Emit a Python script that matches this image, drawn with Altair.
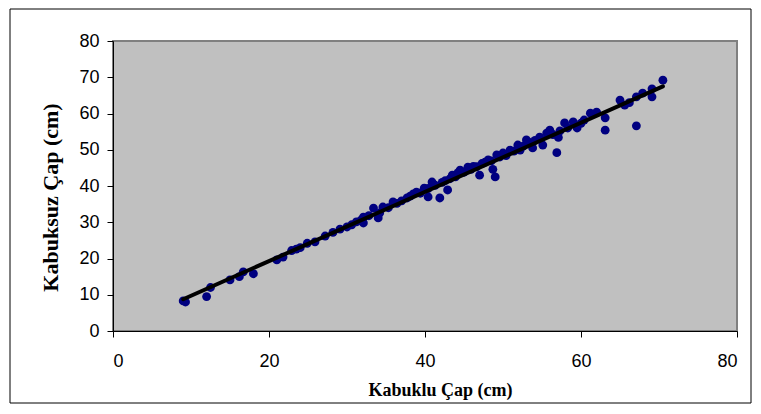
import altair as alt
import pandas as pd

# Kabuklu (with bark) diameter, cm
kabuklu = [9.0, 9.3, 12.0, 12.5, 15.0, 16.2, 16.7, 18.0,
           21.0, 21.8, 22.9, 23.5, 24.0, 24.9, 25.9, 27.2, 28.2, 29.1, 30.0, 30.6,
           31.2, 31.8, 32.1, 32.1, 32.8, 33.4, 34.0, 34.2, 34.6, 35.3, 35.9, 36.4,
           37.0, 37.7, 38.1, 38.5, 38.9, 39.4, 39.9, 40.4, 40.4, 40.9, 41.3, 41.9,
           42.2, 42.6, 42.9, 43.2, 43.5, 43.9, 44.2, 44.5, 45.0, 45.5, 45.9, 46.2,
           46.6, 47.0, 47.3, 47.7, 48.1, 48.5, 48.7, 49.0, 49.2, 49.6, 50.0, 50.4,
           50.9, 51.4, 51.9, 52.2, 52.6, 53.0, 53.4, 53.8, 54.1, 54.7, 55.1, 55.6,
           56.0, 56.4, 56.9, 57.1, 57.3, 57.9, 58.3, 59.0, 59.5, 60.0, 60.4, 61.2,
           62.0, 63.1, 63.1, 65.0, 65.6, 66.2, 67.1, 67.1, 67.9, 69.1, 69.1, 70.5]
# Kabuksuz (without bark) diameter, cm
kabuksuz = [8.3, 8.0, 9.5, 12.0, 14.1, 15.0, 16.3, 15.8,
            19.6, 20.4, 22.2, 22.6, 23.0, 24.2, 24.6, 26.2, 27.2, 28.1, 28.7, 29.3,
            30.1, 30.6, 31.4, 29.8, 31.8, 33.9, 31.2, 32.6, 34.2, 34.0, 35.6, 35.2,
            35.9, 36.7, 37.2, 37.8, 38.3, 38.0, 39.4, 37.0, 39.3, 41.1, 40.2, 36.7,
            41.0, 41.5, 38.9, 42.0, 43.0, 42.5, 43.6, 44.4, 43.8, 45.2, 44.6, 45.4,
            45.3, 43.0, 46.2, 46.6, 47.2, 46.9, 44.6, 42.5, 48.6, 48.0, 49.1, 48.4,
            49.9, 49.6, 51.3, 49.9, 51.0, 52.7, 52.0, 50.5, 52.6, 53.5, 51.3, 54.6,
            55.4, 54.2, 49.2, 53.4, 55.2, 57.4, 56.0, 57.7, 56.0, 57.3, 58.2, 60.1,
            60.4, 58.8, 55.4, 63.7, 62.3, 63.0, 56.6, 64.6, 65.6, 66.8, 64.6, 69.2]

x_ticks = [0, 20, 40, 60, 80]
y_ticks = [0, 10, 20, 30, 40, 50, 60, 70, 80]

df = pd.DataFrame({"Kabuklu": kabuklu, "Kabuksuz": kabuksuz})

x_enc = alt.X("Kabuklu:Q",
              scale=alt.Scale(domain=[0, 80], nice=False),
              axis=alt.Axis(title="Kabuklu Çap (cm)", values=x_ticks, titleX=327,
                            labelOverlap=False))
y_enc = alt.Y("Kabuksuz:Q",
              scale=alt.Scale(domain=[0, 80], nice=False),
              axis=alt.Axis(title="Kabuksuz Çap (cm)", values=y_ticks, titleY=156,
                            titleFontSize=22, labelOverlap=False))

frame = alt.Chart(pd.DataFrame({"k": [0]})).mark_rect(
    fill="transparent", stroke="#000000", strokeWidth=1
).encode(x=alt.value(-103), x2=alt.value(638), y=alt.value(-32), y2=alt.value(362))

points = alt.Chart(df).mark_point(
    filled=True, shape="circle", size=78, color="#000080", opacity=1
).encode(x=x_enc, y=y_enc)

line = alt.Chart(df).transform_regression(
    "Kabuklu", "Kabuksuz"
).mark_line(color="#000000", strokeWidth=4, strokeCap="round").encode(
    x=x_enc, y=y_enc
)

chart = alt.layer(frame, points, line).properties(
    width=624, height=290,
    autosize=alt.AutoSizeParams(type="none"),
    padding={"left": 105, "top": 33, "right": 16, "bottom": 73},
    background="#ffffff",
).configure_view(
    fill="#C0C0C0", stroke="#808080", strokeWidth=2
).configure_axis(
    grid=False,
    domainColor="#000000", domainWidth=1,
    tickColor="#000000", tickSize=6, tickWidth=1,
    labelFont="Liberation Sans", labelFontSize=18, labelColor="#000000",
    titleFont="Liberation Serif", titleFontSize=18, titleFontWeight="bold",
    titleColor="#000000",
).configure_axisX(
    labelPadding=15, titlePadding=11
).configure_axisY(
    labelPadding=8, titlePadding=16
)

chart.save("out.html", embed_options={"renderer": "svg", "actions": False})
